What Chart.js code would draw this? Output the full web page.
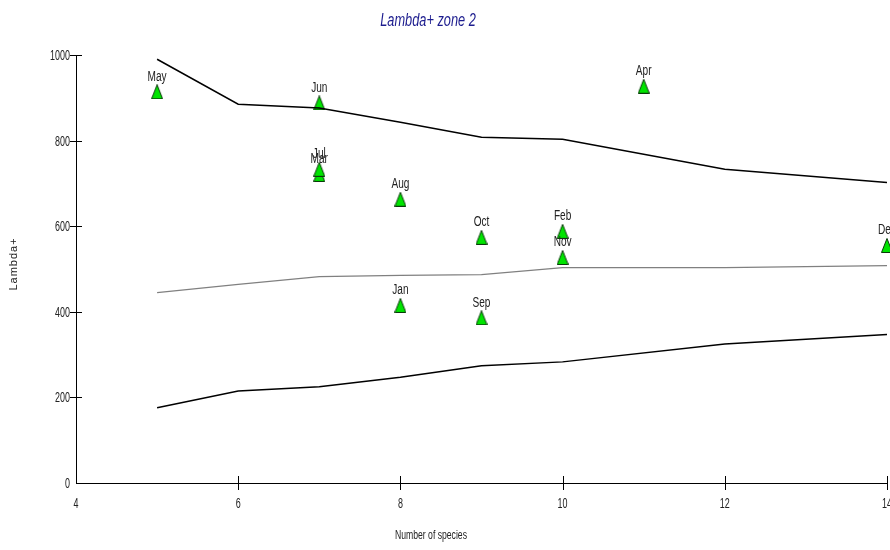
<!DOCTYPE html>
<html>
<head>
<meta charset="utf-8">
<script src="https://cdn.jsdelivr.net/npm/chart.js@4.4.1/dist/chart.umd.min.js"></script>
<style>
  body { margin: 0; background: #fff; }
  #wrap { width: 890px; height: 550px; }
</style>
</head>
<body>
<div id="wrap"><canvas id="lambdaChart" width="890" height="550"></canvas></div>
<script>
// months observed, with species count and Lambda+ value
var months = ['Jan', 'Feb', 'Mar', 'Apr', 'May', 'Jun', 'Jul', 'Aug', 'Sep', 'Oct', 'Nov', 'Dec'];
var monthSpecies = [8, 10, 7, 11, 5, 7, 7, 8, 9, 9, 10, 14];
var monthLambda = [415, 588, 721, 927, 914, 888, 733, 663, 386, 574, 527, 555];

// expected funnel: mean and limits by number of species
var funnelSpecies = [5, 6, 7, 8, 9, 10, 12, 14];
var funnelUpper = [990, 885, 876, 843, 808, 803, 733, 702];
var funnelMean = [445, 464, 482, 485, 487, 503, 503, 508];
var funnelLower = [176, 215, 225, 247, 274, 283, 325, 347];

var xTicks = [4, 6, 8, 10, 12, 14];
var yTicks = [0, 200, 400, 600, 800, 1000];

var sans = "'Liberation Sans', Arial, sans-serif";

function toPoints(xs, ys) {
  var out = [];
  for (var i = 0; i < xs.length; i++) out.push({ x: xs[i], y: ys[i] });
  return out;
}

// the original uses a very condensed face, so squeeze the text sideways
function squeezed(ctx, text, x, y, font, sx, align) {
  ctx.save();
  ctx.translate(x, y);
  ctx.scale(sx, 1);
  ctx.font = font;
  ctx.textAlign = align;
  ctx.textBaseline = 'alphabetic';
  ctx.fillText(text, 0, 0);
  ctx.restore();
}

// green triangle marker
var tri = document.createElement('canvas');
tri.width = 12; tri.height = 15;
var tc = tri.getContext('2d');
tc.beginPath();
tc.moveTo(6, 0.5);
tc.lineTo(11.5, 14.5);
tc.lineTo(0.5, 14.5);
tc.closePath();
tc.fillStyle = '#00e400';
tc.fill();
tc.strokeStyle = '#0a3a0a';
tc.lineWidth = 1;
tc.stroke();

var extras = {
  id: 'extras',
  afterDatasetsDraw: function(chart) {
    var ctx = chart.ctx;
    var meta = chart.getDatasetMeta(3);
    ctx.fillStyle = '#222';
    meta.data.forEach(function(pt, i) {
      squeezed(ctx, months[i], pt.x, pt.y - 11, '14px ' + sans, 0.72, 'center');
    });
  },
  afterDraw: function(chart) {
    var ctx = chart.ctx;
    var xs = chart.scales.x;
    var ys = chart.scales.y;

    // tick marks cross the axis lines
    ctx.save();
    ctx.strokeStyle = '#000';
    ctx.lineWidth = 1;
    xTicks.forEach(function(v) {
      if (v === xs.min) return;
      var px = Math.round(xs.getPixelForValue(v)) + 0.5;
      ctx.beginPath();
      ctx.moveTo(px, xs.top - 7);
      ctx.lineTo(px, xs.top + 7);
      ctx.stroke();
    });
    yTicks.forEach(function(v) {
      if (v === ys.min) return;
      var py = Math.round(ys.getPixelForValue(v)) + 0.5;
      ctx.beginPath();
      ctx.moveTo(ys.right - 6, py);
      ctx.lineTo(ys.right + 6, py);
      ctx.stroke();
    });
    ctx.restore();

    ctx.fillStyle = '#222';
    xTicks.forEach(function(v) {
      squeezed(ctx, String(v), xs.getPixelForValue(v), 508, '14px ' + sans, 0.64, 'center');
    });
    yTicks.forEach(function(v) {
      squeezed(ctx, String(v), ys.right - 6, ys.getPixelForValue(v) + 5, '14px ' + sans, 0.64, 'right');
    });

    ctx.fillStyle = '#1c1c8e';
    squeezed(ctx, 'Lambda+ zone 2', 428, 26, 'italic 18px ' + sans, 0.71, 'center');

    ctx.fillStyle = '#222';
    squeezed(ctx, 'Number of species', 431, 539, '12.5px ' + sans, 0.69, 'center');

    ctx.save();
    ctx.translate(14, 264);
    ctx.rotate(-Math.PI / 2);
    ctx.font = '11px ' + sans;
    ctx.letterSpacing = '1px';
    ctx.textAlign = 'center';
    ctx.textBaseline = 'middle';
    ctx.fillText('Lambda+', 0, 0);
    ctx.restore();
  }
};

var lambdaChart = new Chart(document.getElementById('lambdaChart').getContext('2d'), {
  type: 'scatter',
  data: {
    datasets: [
      {
        type: 'line', data: toPoints(funnelSpecies, funnelUpper),
        borderColor: '#000', borderWidth: 1.5, pointRadius: 0, tension: 0, fill: false
      },
      {
        type: 'line', data: toPoints(funnelSpecies, funnelMean),
        borderColor: '#808080', borderWidth: 1.3, pointRadius: 0, tension: 0, fill: false
      },
      {
        type: 'line', data: toPoints(funnelSpecies, funnelLower),
        borderColor: '#000', borderWidth: 1.5, pointRadius: 0, tension: 0, fill: false
      },
      {
        data: toPoints(monthSpecies, monthLambda),
        pointStyle: tri, pointRadius: 7, pointHoverRadius: 7, clip: false
      }
    ]
  },
  options: {
    responsive: false,
    animation: false,
    devicePixelRatio: 1,
    layout: { autoPadding: false, padding: { top: 55, right: 3, left: 0, bottom: 0 } },
    plugins: {
      legend: { display: false },
      tooltip: { enabled: false },
      title: { display: false }
    },
    scales: {
      x: {
        type: 'linear', min: 4, max: 14,
        afterBuildTicks: function(scale) {
          scale.ticks = xTicks.map(function(v) { return { value: v }; });
        },
        afterFit: function(scale) {
          scale.height = 67;
          scale.paddingLeft = 0;
          scale.paddingRight = 0;
        },
        border: { display: true, color: '#000', width: 1 },
        grid: { display: false },
        ticks: { display: false }
      },
      y: {
        min: 0, max: 1000,
        afterBuildTicks: function(scale) {
          scale.ticks = yTicks.map(function(v) { return { value: v }; });
        },
        afterFit: function(scale) {
          scale.width = 76;
          scale.paddingTop = 0;
          scale.paddingBottom = 0;
        },
        border: { display: true, color: '#000', width: 1 },
        grid: { display: false },
        ticks: { display: false }
      }
    }
  },
  plugins: [extras]
});
</script>
</body>
</html>
